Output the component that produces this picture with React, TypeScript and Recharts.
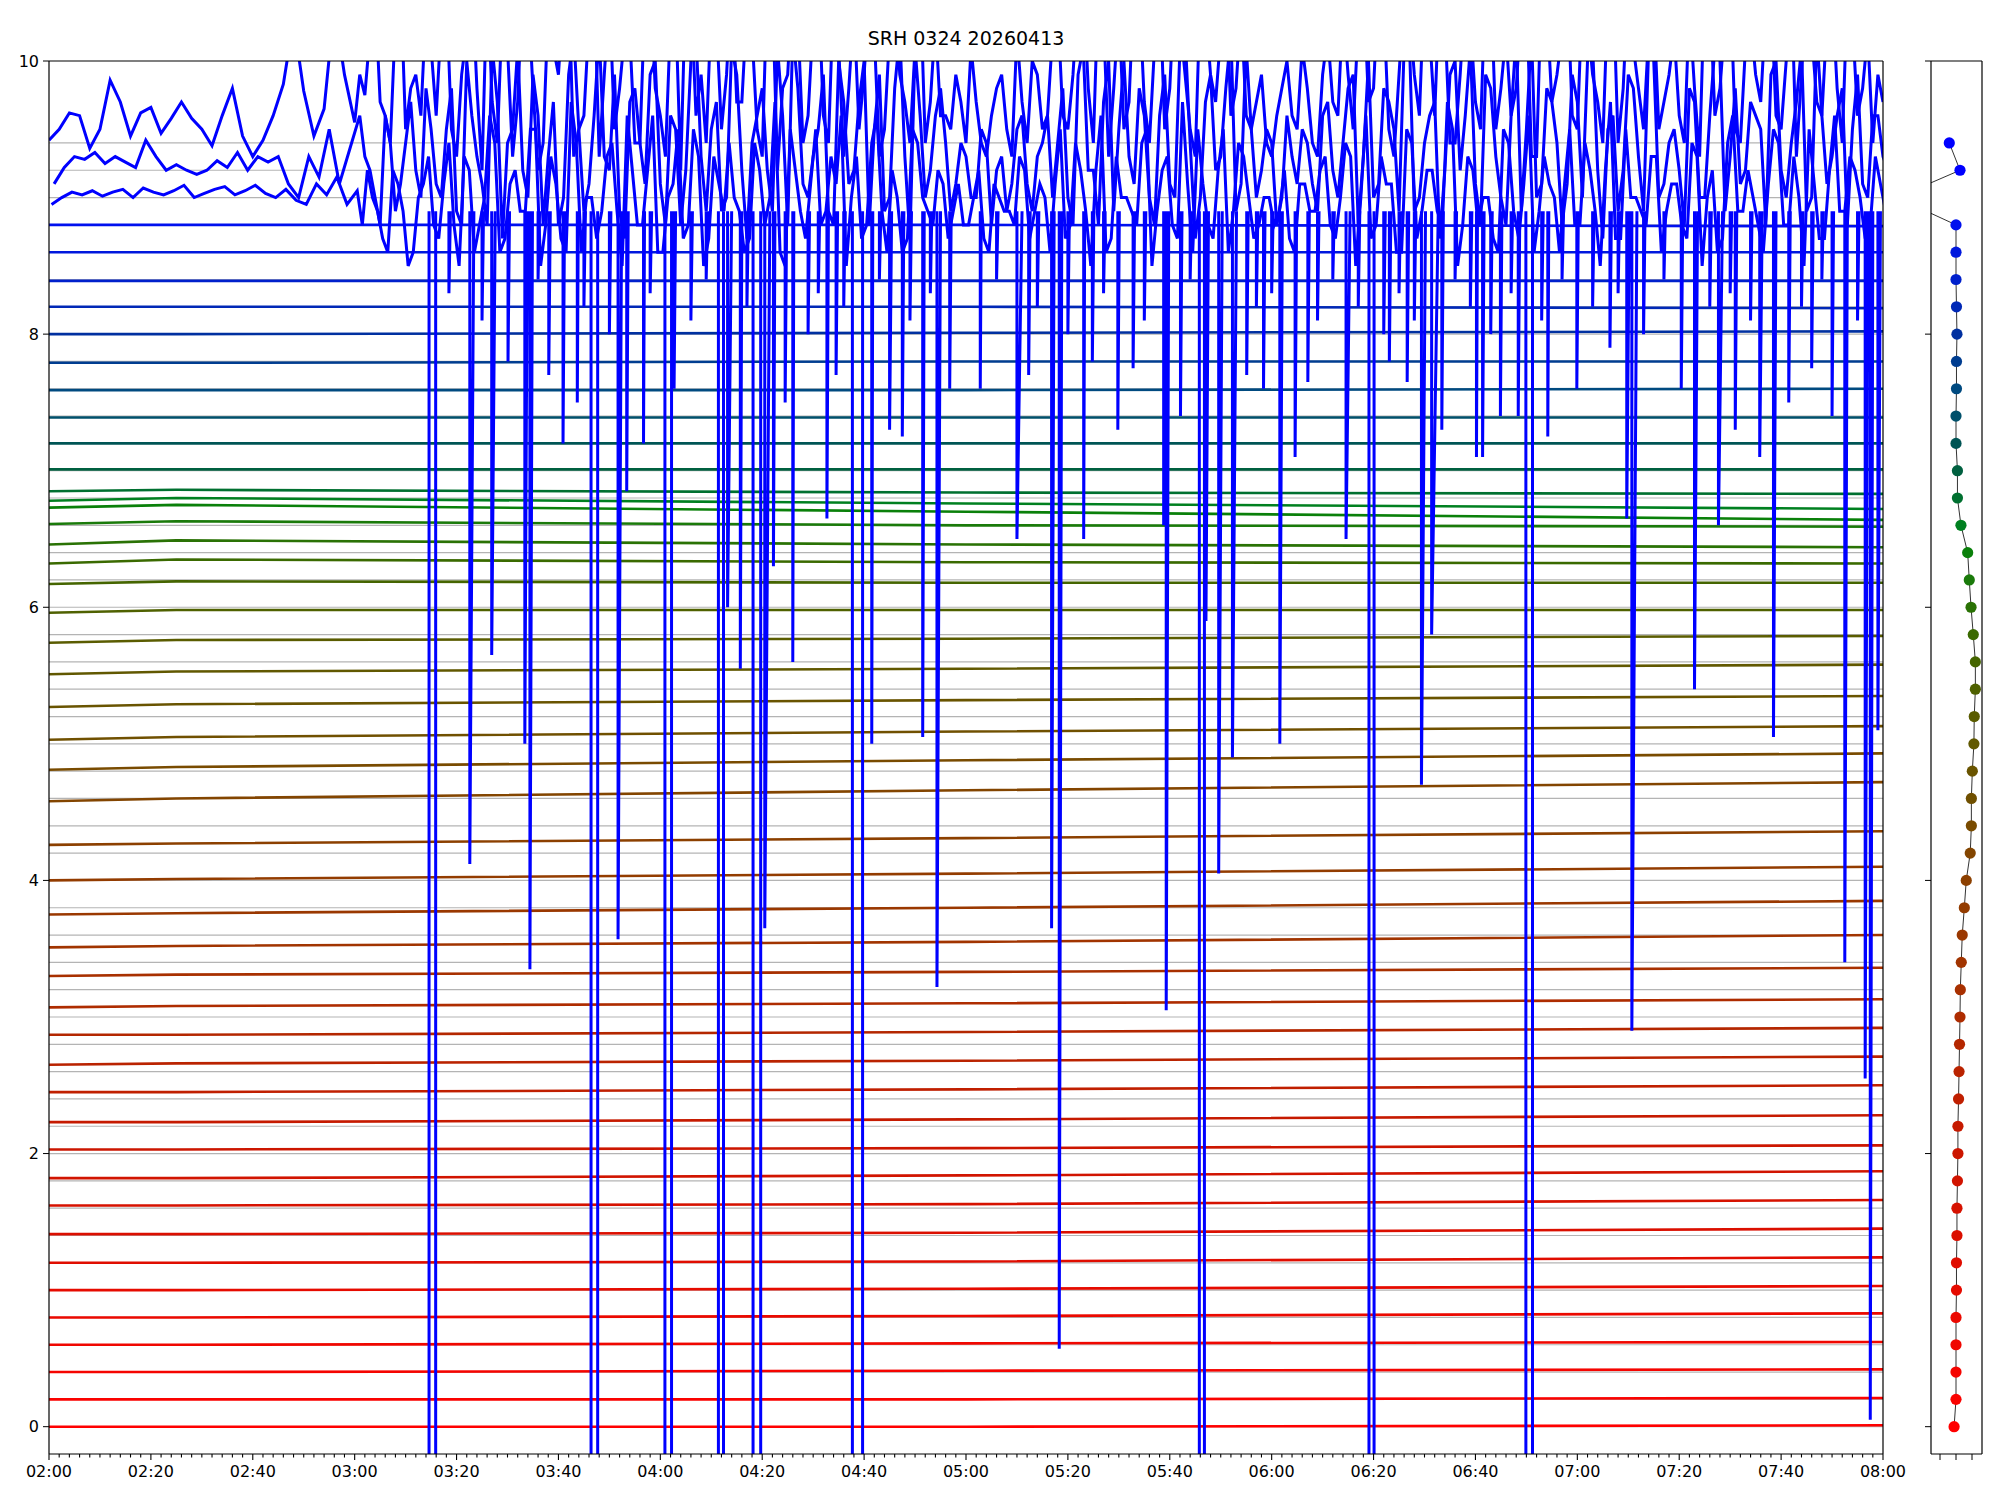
import React from "react";
import {
    LineChart,
    Line,
    XAxis,
    YAxis,
    CartesianGrid,
    ReferenceLine,
} from "recharts";

const TITLE = "SRH 0324 20260413";

// minutes after 02:00
const MAJOR_LABELS = [
    "02:00", "02:20", "02:40", "03:00", "03:20", "03:40", "04:00", "04:20", "04:40", "05:00",
    "05:20", "05:40", "06:00", "06:20", "06:40", "07:00", "07:20", "07:40", "08:00",
];
const X_TICKS = Array.from({ length: 181 }, (_, i) => i * 2);
const Y_TICKS = [0, 2, 4, 6, 8, 10];

// channel offsets (grid lines, right panel y)
const CHANNEL_LEVELS = [
    0.0, 0.2, 0.4, 0.6, 0.8, 1.0, 1.2, 1.4, 1.6, 1.8, 2.0, 2.2, 2.4, 2.6, 2.8, 3.0,
    3.2, 3.4, 3.6, 3.8, 4.0, 4.2, 4.4, 4.6, 4.8, 5.0, 5.2, 5.4, 5.6, 5.8, 6.0, 6.2,
    6.4, 6.6, 6.8, 7.0, 7.2, 7.4, 7.6, 7.8, 8.0, 8.2, 8.4, 8.6, 8.8, 9.0, 9.2, 9.4,
];

// right panel: per-channel shift
const PANEL_SHIFT = [
    -0.12, 0, 0, 0, 0, 0.03, 0.03, 0.06, 0.06, 0.09, 0.12, 0.12, 0.16, 0.19, 0.22, 0.25,
    0.27, 0.33, 0.39, 0.52, 0.64, 0.89, 0.96, 0.96, 1.02, 1.12, 1.14, 1.21, 1.21, 1.08, 0.94, 0.83,
    0.73, 0.31, 0.09, 0.09, 0, 0, 0.03, 0.03, 0.06, 0.03, 0, 0, 0, -3.7, 0.25, -0.42,
];

// quiet channels 0..44: level at 02:00, 02:25, 05:00, 08:00
const QUIET_T = [0, 25, 180, 360];
const quietAt0200 = [
    0.0, 0.2, 0.4, 0.6, 0.8, 1.0, 1.2, 1.41, 1.62, 1.82, 2.03, 2.23, 2.45, 2.65, 2.87, 3.07,
    3.3, 3.51, 3.75, 4.0, 4.26, 4.58, 4.81, 5.03, 5.27, 5.51, 5.74, 5.96, 6.17, 6.32, 6.46, 6.61,
    6.73, 6.78, 6.85, 7.01, 7.2, 7.39, 7.59, 7.79, 8.0, 8.2, 8.39, 8.6, 8.8,
];
const quietAt0225 = [
    0.0, 0.2, 0.4, 0.6, 0.8, 1.0, 1.2, 1.41, 1.62, 1.82, 2.03, 2.23, 2.45, 2.66, 2.87, 3.08,
    3.31, 3.52, 3.76, 4.01, 4.27, 4.6, 4.83, 5.05, 5.29, 5.53, 5.76, 5.98, 6.19, 6.35, 6.49, 6.63,
    6.75, 6.8, 6.86, 7.01, 7.2, 7.39, 7.59, 7.79, 8.0, 8.2, 8.39, 8.6, 8.8,
];
const quietAt0500 = [
    0.0, 0.2, 0.41, 0.61, 0.81, 1.01, 1.21, 1.42, 1.63, 1.84, 2.04, 2.25, 2.47, 2.68, 2.89, 3.1,
    3.33, 3.55, 3.8, 4.05, 4.31, 4.66, 4.88, 5.09, 5.32, 5.55, 5.77, 5.98, 6.18, 6.33, 6.46, 6.6,
    6.7, 6.76, 6.84, 7.01, 7.2, 7.39, 7.59, 7.8, 8.01, 8.2, 8.39, 8.6, 8.8,
];
const quietAt0800 = [
    0.01, 0.21, 0.42, 0.62, 0.83, 1.03, 1.24, 1.45, 1.66, 1.87, 2.06, 2.28, 2.5, 2.71, 2.92, 3.13,
    3.36, 3.6, 3.85, 4.1, 4.36, 4.72, 4.93, 5.13, 5.35, 5.58, 5.79, 5.98, 6.18, 6.32, 6.44, 6.59,
    6.64, 6.72, 6.83, 7.01, 7.2, 7.39, 7.6, 7.8, 8.02, 8.19, 8.39, 8.6, 8.79,
];

// the three noisy top channels; main samples every 2 minutes from 02:00
const noisyA = [
    9.42, 9.5, 9.62, 9.6, 9.36, 9.5, 9.86, 9.7, 9.45, 9.62, 9.66, 9.47, 9.58, 9.7, 9.58, 9.5,
    9.38, 9.6, 9.8, 9.45, 9.3, 9.42, 9.6, 9.83, 10.3, 9.78, 9.45, 9.65, 10.4, 9.9, 9.55, 9.75,
    10.5, 9.6, 10.3, 9.5, 9.9, 10.4,
    9.6, 10.5, 9.3, 10.2, 9.8, 10.6, 9.4, 10.1, 9.7, 10.5,
    9.2, 10.4, 9.9, 10.6, 9.5, 10.3, 9.3, 10.5, 9.8, 10.2,
    9.4, 10.6, 9.6, 10.3, 9.2, 10.5, 9.9, 10.4, 9.5, 10.6,
    9.7, 10.2, 9.3, 10.5, 9.8, 10.6, 9.4, 10.3, 9.6, 10.5,
    9.3, 10.4, 9.9, 10.2, 9.5, 10.6, 9.7, 10.1, 9.4, 10.3,
    9.6, 9.9, 9.4, 9.7, 9.3, 9.8, 9.5, 10.2, 9.4, 9.9,
    9.6, 10.4, 9.5, 10.5, 9.8, 10.6, 9.3, 10.4, 9.7, 10.5,
    9.4, 10.6, 9.8, 10.3, 9.5, 10.5, 9.9, 10.2, 9.6, 10.4,
    9.5, 9.9, 9.3, 9.8, 9.6, 10.1, 9.4, 9.9, 9.7, 10.4,
    9.5, 10.6, 9.8, 10.4, 9.3, 10.5, 9.9, 10.6, 9.6, 10.3,
    9.4, 10.5, 9.7, 10.6, 9.5, 10.2, 9.8, 10.5, 9.3, 10.4,
    9.9, 10.6, 9.5, 10.3, 9.7, 10.5, 9.4, 10.6, 9.8, 10.2,
    9.5, 9.9, 9.6, 10.4, 9.3, 10.5, 9.8, 10.6, 9.4, 10.3,
    9.7, 10.5, 9.5, 10.6, 9.9, 10.2, 9.6, 10.5, 9.4, 10.3,
    9.8, 9.4, 9.7,
];
const noisyB = [
    9.1, 9.22, 9.3, 9.28, 9.33, 9.25, 9.3, 9.26, 9.22, 9.42, 9.3, 9.2, 9.24, 9.2, 9.17, 9.2,
    9.27, 9.22, 9.33, 9.2, 9.3, 9.26, 9.3, 9.1, 9.0, 9.3, 9.15, 9.5, 9.1, 9.35, 9.6, 9.2,
    8.8, 9.4, 9.1, 9.7, 9.0, 9.5,
    9.0, 9.8, 8.8, 9.6, 9.1, 10.1, 8.7, 9.5, 9.2, 9.9,
    8.8, 9.7, 9.0, 10.2, 8.9, 9.6, 9.3, 9.9, 8.7, 9.8,
    9.1, 10.0, 8.8, 9.5, 9.2, 10.2, 8.9, 9.7, 9.0, 9.9,
    8.7, 9.6, 9.2, 10.1, 8.8, 9.8, 9.0, 9.5, 8.9, 10.0,
    9.1, 9.7, 8.8, 9.9, 9.0, 10.2, 8.7, 9.6, 9.2, 9.8,
    8.9, 9.4, 9.0, 9.5, 8.8, 9.3, 9.1, 9.6, 8.9, 9.4,
    9.0, 9.8, 8.8, 10.1, 9.2, 9.7, 8.9, 10.0, 9.1, 9.6,
    8.8, 9.9, 9.0, 10.2, 8.7, 9.7, 9.2, 9.8, 8.9, 10.1,
    9.0, 9.5, 8.8, 9.6, 9.1, 9.4, 8.9, 9.7, 9.0, 9.8,
    8.8, 10.0, 9.1, 9.7, 8.9, 10.2, 9.0, 9.6, 8.7, 9.9,
    9.2, 10.1, 8.8, 9.8, 9.0, 9.6, 8.9, 10.2, 9.1, 9.7,
    8.8, 9.9, 9.0, 10.1, 8.7, 9.6, 9.2, 9.8, 8.9, 10.0,
    9.1, 9.5, 8.8, 9.7, 9.0, 10.1, 8.9, 9.8, 9.2, 9.6,
    8.8, 10.0, 9.0, 9.7, 8.9, 10.2, 9.1, 9.6, 8.8, 9.9,
    9.0, 9.6, 9.2,
];
const noisyC = [
    8.95, 9.0, 9.04, 9.02, 9.05, 9.01, 9.04, 9.06, 9.0, 9.07, 9.04, 9.02, 9.05, 9.09, 9.0, 9.03,
    9.06, 9.08, 9.02, 9.05, 9.09, 9.03, 9.0, 9.06, 8.98, 8.95, 9.1, 9.02, 9.15, 8.95, 9.05, 9.2,
    8.9, 8.6, 9.1, 8.5, 9.0, 9.3,
    8.7, 9.4, 8.5, 9.2, 8.8, 9.6, 8.6, 9.1, 8.9, 9.5,
    8.5, 9.3, 8.7, 9.7, 8.6, 9.0, 8.9, 9.4, 8.5, 9.2,
    8.8, 9.6, 8.6, 9.1, 8.7, 9.5, 8.5, 9.3, 8.9, 9.0,
    8.6, 9.4, 8.8, 9.7, 8.5, 9.2, 8.7, 9.5, 8.9, 9.1,
    8.5, 9.3, 8.8, 9.6, 8.6, 9.0, 8.7, 9.4, 8.9, 9.2,
    8.7, 9.1, 8.8, 9.2, 8.6, 9.0, 8.9, 9.3, 8.7, 9.1,
    8.6, 9.5, 8.8, 9.2, 8.5, 9.6, 8.7, 9.0, 8.9, 9.4,
    8.5, 9.2, 8.8, 9.7, 8.6, 9.1, 8.7, 9.5, 8.9, 9.3,
    8.7, 9.0, 8.8, 9.2, 8.6, 9.1, 8.9, 9.3, 8.7, 9.4,
    8.5, 9.6, 8.8, 9.1, 8.6, 9.5, 8.7, 9.2, 8.9, 9.7,
    8.5, 9.3, 8.8, 9.0, 8.6, 9.4, 8.7, 9.6, 8.9, 9.1,
    8.6, 9.5, 8.8, 9.2, 8.5, 9.7, 8.7, 9.0, 8.9, 9.3,
    8.6, 9.1, 8.8, 9.4, 8.5, 9.2, 8.7, 9.6, 8.9, 9.0,
    8.6, 9.5, 8.8, 9.3, 8.5, 9.1, 8.7, 9.6, 8.9, 9.2,
    8.7, 9.3, 8.9,
];

// extra in-between samples of the same channels once they turn noisy (from about 03:01)
const noisyAExtra = [
    9.9, 10.2, 9.7, 9.4, 10.6, 9.8, 9.6, 10.1,
    10.3, 9.5, 9.9, 10.6, 9.2, 9.7, 10.4, 9.3, 10.6, 9.8,
    9.4, 10.1, 10.5, 9.3, 9.6, 10.6, 9.9, 9.5, 10.2, 9.4,
    10.5, 9.8, 9.3, 10.4, 10.6, 9.6, 9.4, 10.3, 9.9, 9.7,
    10.4, 9.5, 10.6, 9.2, 9.9, 10.3, 9.6, 10.6, 9.4, 10.1,
    9.8, 9.5, 10.5, 9.3, 10.2, 9.9, 9.4, 10.6, 9.7, 9.6,
    9.5, 9.7, 10.1, 9.4, 9.6, 9.9, 9.3, 9.7, 10.0, 9.5,
    10.2, 9.6, 9.9, 10.6, 9.4, 10.3, 9.8, 9.5, 10.6, 9.7,
    10.1, 9.5, 10.6, 9.9, 9.3, 10.4, 9.7, 10.6, 9.8, 9.6,
    9.7, 9.4, 9.6, 10.0, 9.5, 9.8, 9.3, 10.2, 9.6, 9.9,
    10.3, 9.7, 10.6, 9.5, 9.9, 10.4, 9.6, 10.2, 10.6, 9.4,
    9.9, 10.3, 9.5, 10.6, 9.8, 9.6, 10.4, 9.3, 10.6, 9.7,
    10.2, 9.6, 10.5, 9.9, 9.4, 10.6, 9.8, 10.1, 9.5, 10.4,
    9.7, 10.2, 9.4, 9.8, 10.6, 9.6, 10.3, 9.5, 10.1, 9.9,
    10.4, 9.6, 10.0, 9.3, 10.6, 9.7, 10.3, 9.8, 10.5, 9.6,
    10.2, 9.9,
];
const noisyBExtra = [
    9.3, 9.0, 9.6, 8.9, 9.4, 9.2, 9.8, 9.1,
    9.5, 8.9, 10.0, 9.3, 8.8, 9.7, 9.4, 10.1, 9.0, 9.6,
    9.3, 8.8, 9.9, 9.5, 9.1, 10.2, 9.2, 8.9, 9.7, 9.4,
    9.9, 9.1, 9.6, 8.8, 10.0, 9.3, 9.5, 8.9, 10.1, 9.2,
    9.4, 9.8, 8.9, 9.6, 10.2, 9.1, 9.3, 9.9, 8.8, 9.7,
    9.2, 10.0, 9.5, 8.9, 9.8, 9.3, 10.1, 9.0, 9.6, 9.4,
    9.1, 9.3, 9.0, 9.4, 9.2, 8.9, 9.5, 9.1, 9.3, 9.6,
    9.4, 9.0, 9.9, 9.2, 8.8, 10.0, 9.5, 9.3, 9.8, 9.0,
    9.6, 9.1, 10.1, 9.4, 9.0, 9.9, 9.3, 10.2, 9.1, 9.5,
    9.2, 9.4, 9.0, 9.3, 9.5, 9.1, 9.6, 9.2, 9.4, 9.9,
    9.3, 9.0, 9.8, 9.5, 10.1, 8.9, 9.4, 9.7, 9.2, 10.0,
    9.6, 9.1, 9.9, 9.3, 8.8, 10.2, 9.5, 9.0, 9.8, 9.4,
    9.1, 9.7, 10.0, 9.2, 9.5, 8.9, 9.9, 9.3, 10.1, 9.0,
    9.4, 9.2, 9.8, 9.0, 9.6, 10.0, 9.3, 9.1, 9.7, 9.5,
    9.9, 9.2, 9.4, 10.1, 9.0, 9.6, 9.3, 9.8, 9.5, 9.1,
    9.6, 9.3,
];
const noisyCExtra = [
    8.8, 9.0, 8.7, 9.2, 8.9, 8.6, 9.1, 8.8,
    9.1, 8.8, 9.3, 8.6, 9.0, 9.4, 8.7, 9.2, 8.9, 9.5,
    8.8, 9.1, 8.6, 9.4, 9.0, 8.7, 9.3, 8.9, 9.6, 8.8,
    9.2, 8.6, 9.0, 9.5, 8.8, 9.3, 8.7, 9.1, 9.4, 8.9,
    8.7, 9.2, 9.0, 8.6, 9.5, 8.9, 9.1, 8.8, 9.3, 9.6,
    9.0, 8.7, 9.4, 8.9, 9.2, 8.6, 9.5, 9.0, 8.8, 9.1,
    8.9, 8.8, 9.0, 8.7, 9.1, 8.9, 8.8, 9.2, 8.9, 9.0,
    9.1, 8.7, 9.4, 8.9, 9.2, 8.6, 9.3, 9.0, 8.8, 9.5,
    8.9, 9.3, 8.7, 9.1, 9.5, 8.8, 9.2, 8.6, 9.4, 9.0,
    8.8, 9.0, 8.9, 8.7, 9.1, 8.9, 9.2, 8.8, 9.0, 9.3,
    9.0, 8.7, 9.3, 9.1, 8.6, 9.4, 8.9, 9.2, 8.8, 9.5,
    8.8, 9.2, 9.0, 8.7, 9.5, 8.9, 9.1, 8.6, 9.3, 9.0,
    9.1, 8.8, 9.4, 8.9, 9.2, 8.7, 9.5, 9.0, 8.8, 9.3,
    8.9, 9.1, 8.7, 9.3, 9.0, 8.6, 9.4, 8.9, 9.2, 8.8,
    9.1, 9.4, 8.8, 9.0, 9.5, 8.7, 9.2, 8.9, 9.3, 9.0,
    8.8, 9.1,
];

// drop-outs of the noisy channels: [start min, end min, lowest value]
const DIP_TOP = 8.9;
const dips: [number, number, number][] = [
    [74.6, 75.9, -0.6], [106.4, 107.7, -0.6], [120.9, 122.2, -0.6], [131.4, 132.4, -0.6],
    [138.2, 139.7, -0.6], [157.7, 159.7, -0.6], [225.8, 226.8, -0.6], [259.1, 260.1, -0.6],
    [289.9, 291.2, -0.6],
    [82.6, 83.4, 4.12], [86.9, 87.6, 5.65], [93.4, 93.9, 5.0], [94.4, 94.9, 3.35],
    [100.9, 101.2, 7.2], [103.7, 103.9, 7.5], [111.7, 112.4, 3.57], [113.4, 113.7, 6.85],
    [116.7, 116.9, 7.2], [133.2, 134.0, 6.0], [135.7, 136.0, 5.55], [140.5, 141.5, 3.65],
    [142.2, 142.5, 6.3], [146.0, 146.2, 5.6], [152.7, 153.0, 6.65], [161.5, 161.7, 5.0],
    [171.5, 171.8, 5.05], [174.3, 175.0, 3.22], [167.5, 167.8, 7.25], [182.8, 183.0, 7.6],
    [190.0, 191.0, 6.5], [196.8, 197.3, 3.65], [198.3, 198.8, 0.57], [203.1, 203.3, 6.5],
    [209.8, 210.1, 7.3], [218.8, 219.1, 6.6], [219.3, 219.8, 3.05], [227.1, 227.6, 5.9],
    [229.6, 230.3, 4.05], [232.3, 233.1, 4.9], [241.6, 242.1, 5.0], [244.6, 244.9, 7.1],
    [254.6, 255.4, 6.5], [269.4, 270.2, 4.7], [271.4, 272.7, 5.8], [280.2, 280.4, 7.1],
    [294.2, 294.4, 7.25], [309.7, 310.2, 6.65], [310.7, 311.7, 2.9], [323.0, 323.6, 5.4],
    [327.7, 328.5, 6.6], [335.8, 336.3, 7.1], [338.5, 339.0, 5.05], [350.0, 350.3, 7.4],
    [352.5, 353.0, 3.4], [356.5, 357.0, 2.55], [357.5, 358.0, 0.05], [359.0, 359.5, 5.1],
    [90.1, 90.4, 7.8], [98.1, 98.4, 7.7], [122.7, 123.0, 7.6], [144.5, 144.8, 7.5],
    [154.5, 154.8, 7.7], [165.0, 165.4, 7.3], [176.8, 177.1, 7.6], [192.3, 192.6, 7.7],
    [204.8, 205.1, 7.8], [212.8, 213.1, 7.75], [222.1, 222.4, 7.4], [235.1, 235.4, 7.7],
    [238.4, 238.7, 7.6], [247.1, 247.4, 7.65], [263.1, 263.4, 7.8], [266.6, 266.9, 7.65],
    [273.4, 273.7, 7.3], [281.4, 281.7, 7.1], [284.9, 285.2, 7.4], [288.4, 288.7, 7.4],
    [299.9, 300.2, 7.6], [306.4, 306.7, 7.9], [320.4, 320.7, 7.6], [331.0, 331.3, 7.3],
    [341.5, 341.8, 7.5], [346.0, 346.3, 7.75],
];

// short drops just below the noisy band
const shallowDips: [number, number, number][] = [
    [78.5, 78.8, 8.3], [85.0, 85.3, 8.1], [96.0, 96.3, 8.4], [105.0, 105.3, 8.2],
    [110.0, 110.3, 8.0], [118.0, 118.3, 8.3], [126.0, 126.3, 8.1], [129.0, 129.3, 8.4],
    [137.0, 137.3, 8.2], [149.0, 149.3, 8.0], [151.0, 151.3, 8.3], [156.0, 156.3, 8.2],
    [163.0, 163.3, 8.4], [169.0, 169.3, 8.1], [173.0, 173.3, 8.3], [186.0, 186.3, 8.4],
    [194.0, 194.3, 8.2], [200.0, 200.3, 8.0], [207.0, 207.3, 8.3], [215.0, 215.3, 8.1],
    [224.0, 224.3, 8.4], [237.0, 237.3, 8.2], [240.0, 240.3, 8.3], [249.0, 249.3, 8.1],
    [252.0, 252.3, 8.4], [257.0, 257.3, 8.2], [262.0, 262.3, 8.0], [265.0, 265.3, 8.3],
    [268.0, 268.3, 8.1], [276.0, 276.3, 8.4], [279.0, 279.3, 8.2], [283.0, 283.3, 8.0],
    [287.0, 287.3, 8.3], [293.0, 293.3, 8.1], [297.0, 297.3, 8.4], [303.0, 303.3, 8.2],
    [308.0, 308.3, 8.3], [313.0, 313.3, 8.0], [317.0, 317.3, 8.4], [326.0, 326.3, 8.2],
    [330.0, 330.3, 8.3], [334.0, 334.3, 8.1], [344.0, 344.3, 8.2], [348.0, 348.3, 8.4],
    [355.0, 355.3, 8.1],
];

const COLOR_STOPS: [number, number, number, number][] = [
    [0, 255, 0, 0],
    [10, 204, 22, 0],
    [16, 168, 48, 0],
    [20, 140, 64, 0],
    [23, 112, 80, 0],
    [26, 90, 92, 0],
    [29, 58, 106, 0],
    [31, 26, 122, 10],
    [32, 10, 128, 10],
    [33, 0, 128, 32],
    [34, 0, 112, 48],
    [35, 0, 96, 64],
    [36, 0, 85, 85],
    [38, 0, 74, 128],
    [40, 0, 48, 160],
    [42, 0, 32, 204],
    [44, 0, 16, 238],
    [45, 0, 0, 255],
    [47, 0, 0, 255],
];

function channelColor(i: number) {
    for (let k = 0; k < COLOR_STOPS.length - 1; k++) {
        const a = COLOR_STOPS[k];
        const b = COLOR_STOPS[k + 1];
        if (i >= a[0] && i <= b[0]) {
            const f = b[0] === a[0] ? 0 : (i - a[0]) / (b[0] - a[0]);
            const c = [1, 2, 3].map((j) => Math.round(a[j] + (b[j] - a[j]) * f));
            return `rgb(${c[0]},${c[1]},${c[2]})`;
        }
    }
    return "rgb(0,0,255)";
}

const COLORS = CHANNEL_LEVELS.map((_, i) => channelColor(i));
const FONT = "'DejaVu Sans', sans-serif";

const quietSeries = quietAt0200.map((_, ch) =>
    QUIET_T.map((t, k) => ({
        t,
        v: [quietAt0200, quietAt0225, quietAt0500, quietAt0800][k][ch],
    }))
);

const byTime = (a: { t: number }, b: { t: number }) => a.t - b.t;
const seriesA = [
    ...noisyA.map((v, i) => ({ t: i * 2, v })),
    ...noisyAExtra.map((v, i) => ({ t: 61 + i * 2, v })),
].sort(byTime);
const seriesB = [
    ...noisyB.map((v, i) => ({ t: i * 2 + 1, v })),
    ...noisyBExtra.map((v, i) => ({ t: 62 + i * 2, v })),
].sort(byTime);
const seriesC = [
    ...noisyC.map((v, i) => ({ t: i * 2 + 0.5, v })),
    ...noisyCExtra.map((v, i) => ({ t: 61.5 + i * 2, v })),
].sort(byTime);

const dipSeries = [...dips, ...shallowDips].flatMap(([a, b, low]) =>
    low < 0
        ? [
              { t: a, v: DIP_TOP },
              { t: a, v: low },
              { t: b, v: low },
              { t: b, v: DIP_TOP },
              { t: b, v: null },
          ]
        : [
              { t: a, v: DIP_TOP },
              { t: a, v: low },
              { t: b, v: DIP_TOP },
              { t: b, v: null },
          ]
);
const panelData = CHANNEL_LEVELS.map((y, i) => ({ x: PANEL_SHIFT[i], y }));

function TimeTick(props: any) {
    const { x, y, payload } = props;
    const m = payload.value as number;
    const major = m % 20 === 0;
    return (
        <g>
            <line x1={x} x2={x} y1={y} y2={y + (major ? 6 : 3.5)} stroke="#000" strokeWidth={1.1} />
            {major && (
                <text x={x} y={y + 23} textAnchor="middle" fontSize={16} fontFamily={FONT} fill="#000">
                    {MAJOR_LABELS[m / 20]}
                </text>
            )}
        </g>
    );
}

function PanelDot(props: any) {
    const { cx, cy, index } = props;
    if (cx == null || cy == null) return null;
    return <circle key={`d${index}`} cx={cx} cy={cy} r={5.6} fill={COLORS[index]} />;
}

export default function App() {
    return (
        <div style={{ position: "relative", width: 2000, height: 1500, background: "#fff" }}>
            <style>{"body{margin:0}"}</style>
            <div
                style={{
                    position: "absolute",
                    top: 26,
                    left: 49,
                    width: 1834,
                    textAlign: "center",
                    fontFamily: FONT,
                    fontSize: 19,
                    lineHeight: "24px",
                    color: "#000",
                }}
            >
                {TITLE}
            </div>

            <div style={{ position: "absolute", left: 0, top: 0 }}>
                <LineChart width={1930} height={1500} margin={{ top: 61, right: 47, bottom: 6, left: 9 }}>
                    <CartesianGrid
                        vertical={false}
                        horizontalValues={CHANNEL_LEVELS}
                        stroke="#b4b4b4"
                        strokeWidth={1.2}
                    />
                    <XAxis
                        dataKey="t"
                        type="number"
                        domain={[0, 360]}
                        ticks={X_TICKS}
                        interval={0}
                        allowDataOverflow
                        height={40}
                        tickSize={0}
                        tickMargin={0}
                        tickLine={false}
                        tick={<TimeTick />}
                        axisLine={{ stroke: "#000", strokeWidth: 1.2 }}
                    />
                    <YAxis
                        type="number"
                        domain={[-0.2, 10]}
                        ticks={Y_TICKS}
                        allowDataOverflow
                        width={40}
                        tickSize={6}
                        tickMargin={4}
                        tick={{ fontSize: 16, fill: "#000", fontFamily: FONT }}
                        tickLine={{ stroke: "#000" }}
                        axisLine={{ stroke: "#000", strokeWidth: 1.2 }}
                    />
                    {quietSeries.map((data, ch) => (
                        <Line
                            key={`q${ch}`}
                            data={data}
                            dataKey="v"
                            stroke={COLORS[ch]}
                            strokeWidth={2.6}
                            dot={false}
                            isAnimationActive={false}
                        />
                    ))}
                    <Line data={seriesC} dataKey="v" stroke={COLORS[45]} strokeWidth={3} dot={false} isAnimationActive={false} />
                    <Line data={seriesB} dataKey="v" stroke={COLORS[46]} strokeWidth={3} dot={false} isAnimationActive={false} />
                    <Line data={seriesA} dataKey="v" stroke={COLORS[47]} strokeWidth={3} dot={false} isAnimationActive={false} />
                    <Line
                        data={dipSeries}
                        dataKey="v"
                        stroke="#0000ff"
                        strokeWidth={3}
                        dot={false}
                        connectNulls={false}
                        isAnimationActive={false}
                    />
                    <ReferenceLine y={10} stroke="#000" strokeWidth={1.2} />
                    <ReferenceLine x={360} stroke="#000" strokeWidth={1.2} />
                </LineChart>
            </div>

            <div style={{ position: "absolute", left: 1910, top: 0 }}>
                <LineChart width={90} height={1500} margin={{ top: 61, right: 18, bottom: 6, left: 13 }}>
                    <XAxis
                        dataKey="x"
                        type="number"
                        domain={[-1.5625, 1.625]}
                        ticks={[-1, 0, 1]}
                        allowDataOverflow
                        height={40}
                        tickSize={6}
                        tickFormatter={() => ""}
                        tickLine={{ stroke: "#000" }}
                        axisLine={{ stroke: "#000", strokeWidth: 1.2 }}
                    />
                    <YAxis
                        type="number"
                        domain={[-0.2, 10]}
                        ticks={Y_TICKS}
                        allowDataOverflow
                        width={8}
                        tickSize={6}
                        tickFormatter={() => ""}
                        tickLine={{ stroke: "#000" }}
                        axisLine={{ stroke: "#000", strokeWidth: 1.2 }}
                    />
                    <Line
                        data={panelData}
                        dataKey="y"
                        stroke="#333"
                        strokeWidth={1}
                        dot={<PanelDot />}
                        isAnimationActive={false}
                    />
                    <ReferenceLine y={10} stroke="#000" strokeWidth={1.2} />
                    <ReferenceLine x={1.625} stroke="#000" strokeWidth={1.2} />
                </LineChart>
            </div>
        </div>
    );
}
